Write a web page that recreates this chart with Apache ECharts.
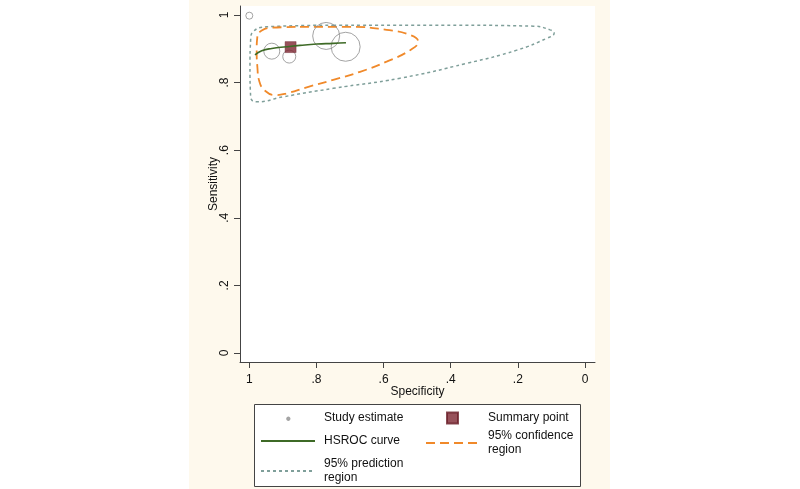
<!DOCTYPE html>
<html><head><meta charset="utf-8">
<script src="https://cdn.jsdelivr.net/npm/echarts@6/dist/echarts.min.js"></script>
<style>html,body{margin:0;padding:0;background:#fff}#c{width:800px;height:489px}</style>
</head><body><div id="c"></div>
<script>
// ---- data ----
var tickValues = [0, 0.2, 0.4, 0.6, 0.8, 1];
var tickLabels = ['0', '.2', '.4', '.6', '.8', '1'];
// study estimates: [specificity, sensitivity]
var studySpec = [1.0, 0.933, 0.881, 0.771, 0.713];
var studySens = [0.998, 0.893, 0.877, 0.938, 0.906];
var studyWeights = [7, 16, 13, 27, 29];
var summarySpec = [0.877];
var summarySens = [0.905];
var hsrocSpec = [0.983, 0.963, 0.933, 0.889, 0.849, 0.799, 0.750, 0.712];
var hsrocSens = [0.882, 0.894, 0.901, 0.906, 0.910, 0.914, 0.916, 0.918];
var confSpec = [0.849, 0.700, 0.591, 0.521, 0.497, 0.521, 0.591, 0.670, 0.750, 0.829, 0.889, 0.923, 0.953, 0.970, 0.976, 0.978, 0.976, 0.963, 0.938, 0.849];
var confSens = [0.965, 0.965, 0.956, 0.941, 0.921, 0.896, 0.862, 0.832, 0.808, 0.786, 0.768, 0.763, 0.776, 0.803, 0.847, 0.896, 0.936, 0.954, 0.962, 0.965];
var predSpec = [0.750, 0.452, 0.154, 0.104, 0.092, 0.114, 0.203, 0.352, 0.551, 0.750, 0.899, 0.978, 0.996, 0.998, 0.996, 0.988, 0.948, 0.750];
var predSens = [0.970, 0.970, 0.967, 0.956, 0.946, 0.931, 0.896, 0.857, 0.813, 0.783, 0.758, 0.743, 0.758, 0.847, 0.926, 0.951, 0.965, 0.970];

function zip(a, b) { return a.map(function (v, i) { return [v, b[i]]; }); }

var FONT = '"Liberation Sans", Arial, sans-serif';
var chart = echarts.init(document.getElementById('c'), null, { renderer: 'canvas' });
var labelFmt = function (v) {
  for (var i = 0; i < tickValues.length; i++) if (Math.abs(v - tickValues[i]) < 1e-6) return tickLabels[i];
  return '';
};
var axisCommon = {
  type: 'value',
  splitLine: { show: false },
  axisLine: { show: true, onZero: false, lineStyle: { color: '#444', width: 1 } },
  axisTick: { show: true, length: 6, lineStyle: { color: '#444' }, customValues: tickValues },
  axisLabel: { color: '#111', fontSize: 12, fontFamily: FONT, customValues: tickValues, formatter: labelFmt },
  nameLocation: 'middle',
  nameMoveOverlap: false,
  nameTextStyle: { color: '#111', fontSize: 12, fontFamily: FONT }
};
var legendText = { fontSize: 12, fontFamily: FONT, color: '#111', lineHeight: 14, padding: [0, 0, 0, 4] };
var hideSym = { opacity: 0 };

chart.setOption({
  animation: false,
  backgroundColor: '#ffffff',
  graphic: [
    { type: 'rect', z: -10, silent: true, shape: { x: 189, y: 0, width: 421, height: 489 }, style: { fill: '#fef9ed' } },
    { type: 'rect', z: -5, silent: true, shape: { x: 254.5, y: 404.5, width: 326, height: 82 }, style: { fill: '#ffffff', stroke: '#444', lineWidth: 1 } }
  ],
  grid: { left: 240, right: 205, top: 6, bottom: 127, show: true, backgroundColor: '#ffffff', borderWidth: 0 },
  xAxis: Object.assign({}, axisCommon, {
    min: -0.0298, max: 1.0277, inverse: true,
    name: 'Specificity', nameGap: 24,
    axisLabel: Object.assign({}, axisCommon.axisLabel, { margin: 12 })
  }),
  yAxis: Object.assign({}, axisCommon, {
    min: -0.0266, max: 1.0266,
    name: 'Sensitivity', nameGap: 20,
    axisLabel: Object.assign({}, axisCommon.axisLabel, { rotate: 90, margin: 9 })
  }),
  legend: [
    {
      left: 260, top: 411, padding: 0, orient: 'vertical', itemWidth: 54, itemHeight: 11, itemGap: 9, height: 150,
      textStyle: legendText,
      data: [
        { name: 'Study estimate', icon: 'path://M0,0 M24,24 M14.5,12 A2.5,2.5 0 1 1 14.49,11.99 Z' },
        { name: 'HSROC curve', itemStyle: hideSym },
        { name: '95% prediction region', itemStyle: hideSym }
      ],
      formatter: function (n) { return n === '95% prediction region' ? '95% prediction\nregion' : n; }
    },
    {
      left: 425, top: 411, padding: 0, orient: 'vertical', itemWidth: 53, itemHeight: 11, itemGap: 4, height: 150,
      textStyle: legendText,
      data: [
        { name: 'Summary point', icon: 'path://M0,0 L10,0 L10,10 L0,10 Z' },
        { name: '95% confidence region', itemStyle: hideSym }
      ],
      formatter: function (n) { return n === '95% confidence region' ? '95% confidence\nregion' : n; }
    }
  ],
  series: [
    {
      name: '95% prediction region', type: 'line', smooth: 0.5, symbol: 'none', z: 2,
      data: zip(predSpec, predSens),
      lineStyle: { color: '#7f9f9a', width: 1.5, type: [3, 3] }, itemStyle: { color: '#7f9f9a' }
    },
    {
      name: '95% confidence region', type: 'line', smooth: 0.5, symbol: 'none', z: 3,
      data: zip(confSpec, confSens),
      lineStyle: { color: '#f0892a', width: 1.8, type: [9, 5] }, itemStyle: { color: '#f0892a' }
    },
    {
      name: 'Study estimate', type: 'scatter', z: 4,
      data: zip(studySpec, studySens),
      symbol: 'circle',
      symbolSize: function (v, p) { return studyWeights[p.dataIndex]; },
      itemStyle: { color: 'rgba(0,0,0,0)', borderColor: '#8c8c8c', borderWidth: 1 }
    },
    {
      name: 'Summary point', type: 'scatter', z: 5,
      data: zip(summarySpec, summarySens),
      symbol: 'rect', symbolSize: 11,
      itemStyle: { color: '#7d2631', borderColor: '#6a1e28', borderWidth: 0.5 }
    },
    {
      name: 'HSROC curve', type: 'line', smooth: true, symbol: 'none', z: 6,
      data: zip(hsrocSpec, hsrocSens),
      lineStyle: { color: '#3e6a26', width: 1.6 }, itemStyle: { color: '#3e6a26' }
    }
  ]
});
</script></body></html>
